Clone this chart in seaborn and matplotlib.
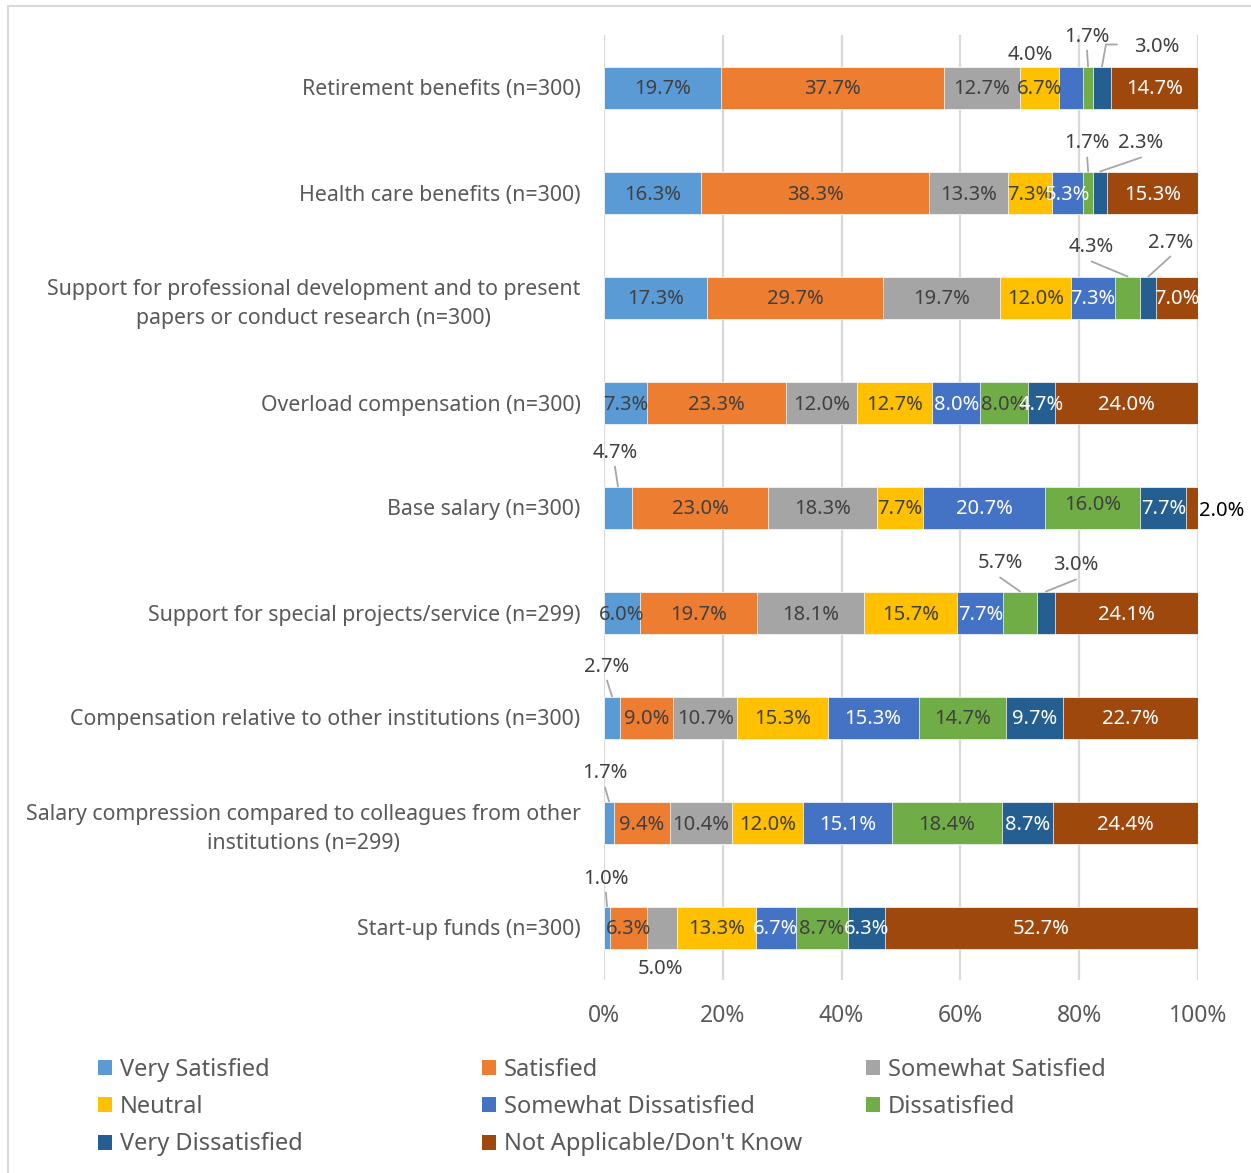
import numpy as np
import seaborn as sns
import matplotlib.pyplot as plt
from matplotlib.patches import Patch
from matplotlib.lines import Line2D
from matplotlib.transforms import offset_copy

# rows of the chart, top to bottom
categories = [
    "Retirement benefits (n=300)",
    "Health care benefits (n=300)",
    "Support for professional development and to present\npapers or conduct research (n=300)",
    "Overload compensation (n=300)",
    "Base salary (n=300)",
    "Support for special projects/service (n=299)",
    "Compensation relative to other institutions (n=300)",
    "Salary compression compared to colleagues from other\ninstitutions (n=299)",
    "Start-up funds (n=300)",
]

series = ["Very Satisfied", "Satisfied", "Somewhat Satisfied", "Neutral",
          "Somewhat Dissatisfied", "Dissatisfied", "Very Dissatisfied",
          "Not Applicable/Don't Know"]
colors = ["#5B9BD5", "#ED7D31", "#A5A5A5", "#FFC000",
          "#4472C4", "#70AD47", "#255E91", "#9E480E"]
label_colors = ["#404040", "#404040", "#404040", "#404040",
                "white", "#404040", "white", "white"]

very_satisfied = [19.7, 16.3, 17.3, 7.3, 4.7, 6.0, 2.7, 1.7, 1.0]
satisfied = [37.7, 38.3, 29.7, 23.3, 23.0, 19.7, 9.0, 9.4, 6.3]
somewhat_satisfied = [12.7, 13.3, 19.7, 12.0, 18.3, 18.1, 10.7, 10.4, 5.0]
neutral = [6.7, 7.3, 12.0, 12.7, 7.7, 15.7, 15.3, 12.0, 13.3]
somewhat_dissatisfied = [4.0, 5.3, 7.3, 8.0, 20.7, 7.7, 15.3, 15.1, 6.7]
dissatisfied = [1.7, 1.7, 4.3, 8.0, 16.0, 5.7, 14.7, 18.4, 8.7]
very_dissatisfied = [3.0, 2.3, 2.7, 4.7, 7.7, 3.0, 9.7, 8.7, 6.3]
not_applicable = [14.7, 15.3, 7.0, 24.0, 2.0, 24.1, 22.7, 24.4, 52.7]

tick_values = [0, 20, 40, 60, 80, 100]
tick_labels = ["0%", "20%", "40%", "60%", "80%", "100%"]

# labels that Excel pushed outside the bar: (row, series) -> (dx, dy, leader)
# dx/dy in pixels from the top centre of the segment, dy pointing down
outside_labels = {
    (0, 4): (-41, -14, None),
    (0, 5): (-1, -32, "line"),
    (0, 6): (55, -21, "elbow"),
    (1, 5): (-1, -30, "line"),
    (1, 6): (41, -30, "line"),
    (2, 5): (-36, -31, "line"),
    (2, 6): (22, -36, "line"),
    (4, 0): (-3, -36, "line"),
    (4, 7): (30, 22, None),
    (5, 5): (-20, -30, "line"),
    (5, 6): (30, -28, "line"),
    (6, 0): (-5, -32, "line"),
    (7, 0): (-4, -30, "line"),
    (8, 0): (-1, -30, "line"),
    (8, 2): (-2, 60, None),
}
inside_shift = {(4, 5): -5}

values = np.array([very_satisfied, satisfied, somewhat_satisfied, neutral,
                   somewhat_dissatisfied, dissatisfied, very_dissatisfied,
                   not_applicable]).T
# 100% stacked: normalise every row
shares = values / values.sum(axis=1, keepdims=True) * 100
right = np.cumsum(shares, axis=1)
left = right - shares
bar_h = 0.4
lead = dict(arrowstyle="-", color="#A6A6A6", lw=1.3, shrinkA=0, shrinkB=0)

sns.set_theme(style="white")
plt.rcParams["font.family"] = ["Noto Sans", "DejaVu Sans"]

fig = plt.figure(figsize=(12.51, 11.73), dpi=100)
ax = fig.add_axes([604 / 1251, 1 - 980 / 1173, 594 / 1251, 945 / 1173])

# draw cumulative bars from the longest down so they look stacked
for j in reversed(range(len(series))):
    sns.barplot(x=right[:, j], y=categories, color=colors[j], width=bar_h,
                orient="h", saturation=1, edgecolor="white", linewidth=0.5,
                ax=ax, zorder=2)

ax.set_xlim(0, 100)
ax.set_ylim(len(categories) - 0.5, -0.5)
ax.set_xticks(tick_values)
ax.set_xticklabels(tick_labels, fontsize=16.5, color="#595959")
ax.tick_params(axis="x", length=0, pad=17)
ax.tick_params(axis="y", length=0, pad=17)
for t in ax.get_yticklabels():
    t.set_fontsize(15.35)
    t.set_color("#595959")
    t.set_multialignment("center")
    t.set_linespacing(1.5)
ax.set_xlabel("")
ax.set_ylabel("")
ax.grid(axis="x", color="#D9D9D9", linewidth=1.6)
ax.set_axisbelow(True)
for s in ax.spines.values():
    s.set_visible(False)

# data labels
for i in range(len(categories)):
    for j in range(len(series)):
        txt = f"{values[i, j]:.1f}%"
        xc = (left[i, j] + right[i, j]) / 2
        if (i, j) in outside_labels:
            dx, dy, leader = outside_labels[(i, j)]
            top = i - bar_h / 2
            col = "black" if j == 7 else "#404040"
            ax.annotate(txt, xy=(xc, top), xytext=(dx, -dy - 2),
                        textcoords="offset pixels", ha="center", va="center",
                        fontsize=14.5, color=col, zorder=5)
            if leader == "line":
                ax.annotate("", xy=(xc, top), xytext=(dx, -(dy + 16)),
                            textcoords="offset pixels", arrowprops=lead)
            elif leader == "elbow":
                # slanted piece up from the bar, then a short flat piece
                ax.annotate("", xy=(xc, top), xytext=(dx - 51, -(dy - 1)),
                            textcoords="offset pixels", arrowprops=lead)
                corner = offset_copy(ax.transData, fig=fig, x=dx - 51,
                                     y=-(dy - 1), units="dots")
                ax.annotate("", xy=(xc, top), xycoords=corner,
                            xytext=(11, 0), textcoords="offset pixels",
                            arrowprops=lead)
        else:
            ax.annotate(txt, xy=(xc, i), xytext=(0, -inside_shift.get((i, j), 0) - 2),
                        textcoords="offset pixels", ha="center", va="center",
                        fontsize=14.5, color=label_colors[j], zorder=5)

# legend, three equal-width columns like Excel
handles = [Patch(facecolor=c, edgecolor="none") for c in colors]
col_x = [98, 482, 866]
for k in range(3):
    idx = [k, k + 3, k + 6] if k < 2 else [k, k + 3]
    fig.legend([handles[n] for n in idx], [series[n] for n in idx],
               loc="upper left", bbox_to_anchor=(col_x[k] / 1251, 1 - 1058 / 1173),
               frameon=False, fontsize=17, labelcolor="#595959",
               handlelength=0.59, handleheight=0.59, handletextpad=0.33,
               labelspacing=0.56, borderpad=0, borderaxespad=0)

# light chart border
fig.add_artist(Line2D([7.5 / 1251, 7.5 / 1251], [0, 1 - 5.5 / 1173],
                      transform=fig.transFigure, color="#D9D9D9", lw=1.5))
fig.add_artist(Line2D([7.5 / 1251, 1], [1 - 5.5 / 1173, 1 - 5.5 / 1173],
                      transform=fig.transFigure, color="#D9D9D9", lw=1.5))

fig.savefig("out.png", dpi=100)
